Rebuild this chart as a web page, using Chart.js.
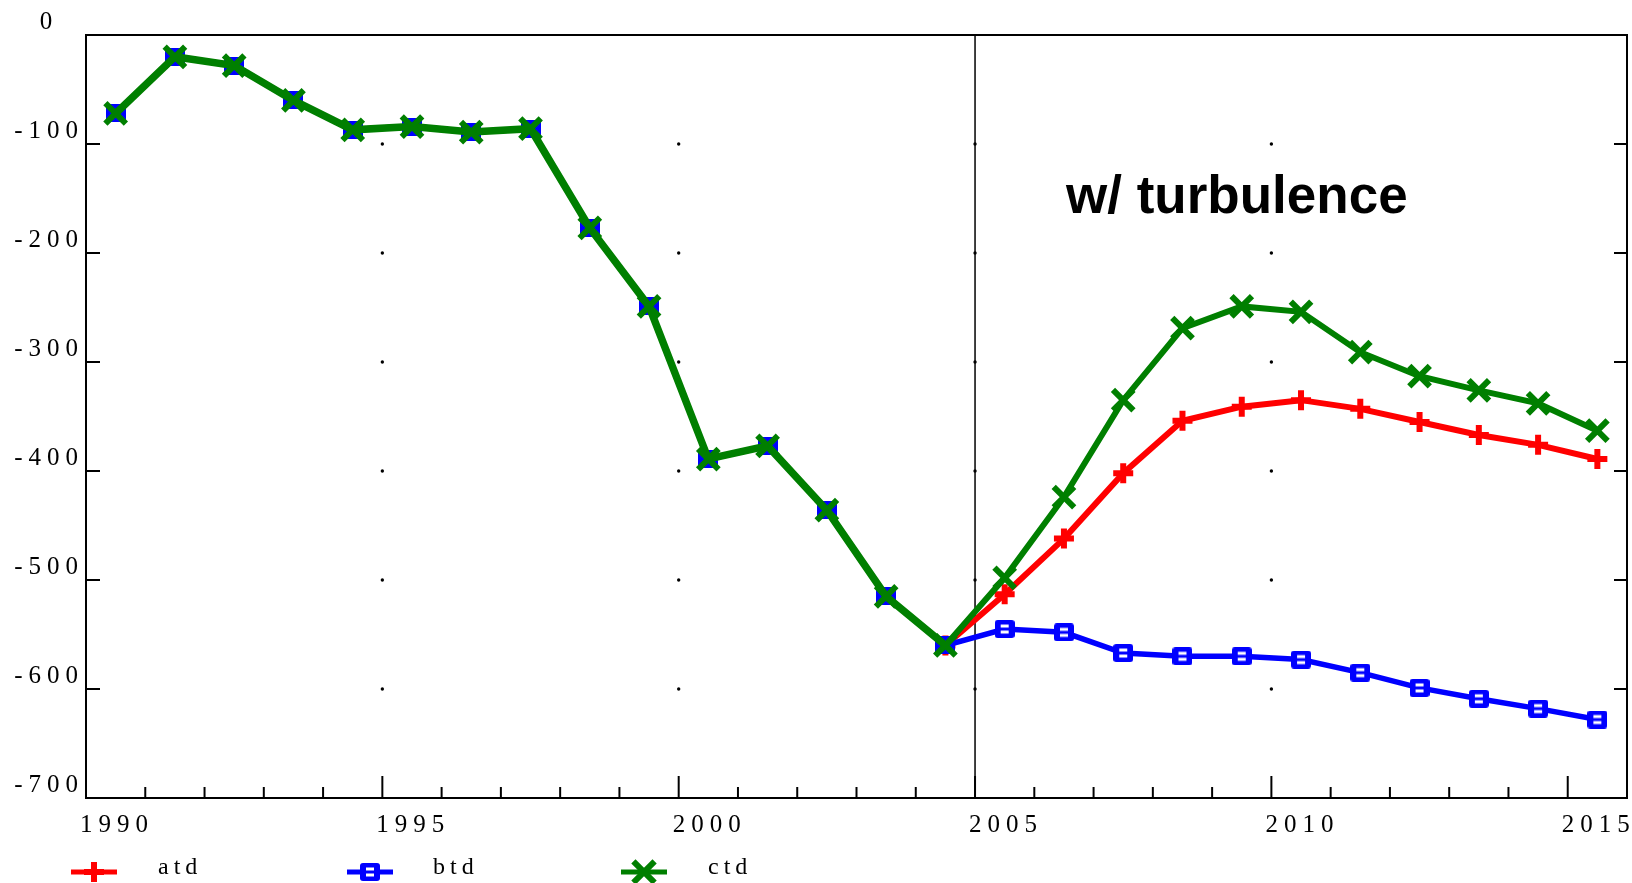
<!DOCTYPE html>
<html>
<head>
<meta charset="utf-8">
<title>atd / btd / ctd</title>
<script src="https://cdn.jsdelivr.net/npm/chart.js@4.4.1/dist/chart.umd.min.js"></script>
<style>
  html, body { margin: 0; padding: 0; background: #fff; }
  canvas { display: block; }
</style>
</head>
<body>
<canvas id="chart" width="1632" height="883"></canvas>
<script>
// yearly values, plotted at mid-year
const years = [1990, 1991, 1992, 1993, 1994, 1995, 1996, 1997, 1998, 1999, 2000, 2001, 2002,
               2003, 2004, 2005, 2006, 2007, 2008, 2009, 2010, 2011, 2012, 2013, 2014, 2015];

// common history 1990-2004
const history = [-72, -20, -28, -60, -87, -84, -89, -86, -177, -249, -389, -377, -436, -515, -560];

// 2005-2015 per case
const atdProj = [-513, -462, -402, -354, -341, -335, -343, -355, -367, -376, -389];
const btdProj = [-545, -548, -567, -570, -570, -573, -585, -599, -609, -618, -628];
const ctdProj = [-498, -424, -335, -269, -249, -254, -291, -313, -326, -338, -363];

const xLabelYears = [1990, 1995, 2000, 2005, 2010, 2015];
const dotYears = [1995, 2000, 2005, 2010];
const splitYear = 2005;
const note = "w/ turbulence";

const atd = history.concat(atdProj);
const btd = history.concat(btdProj);
const ctd = history.concat(ctdProj);

const RED = "#ff0000";
const BLUE = "#0000ff";
const GREEN = "#007f00";
const SERIF = "'Liberation Serif', 'Times New Roman', serif";

const pts = vals => vals.map((v, i) => ({ x: years[i] + 0.5, y: v }));
const inHistory = i => i < history.length - 1;

// square marker with a bar across the middle
function squareMark(solid) {
    const c = document.createElement("canvas");
    c.width = 20;
    c.height = 18;
    const g = c.getContext("2d");
    g.fillStyle = BLUE;
    g.beginPath();
    g.roundRect(0, 0, 20, 18, 3);
    g.fill();
    if (!solid) {
        g.fillStyle = "#fff";
        g.fillRect(6, 4.5, 8, 3);
        g.fillRect(6, 10.5, 8, 3);
    }
    return c;
}
const solidSq = squareMark(true);
const slotSq = squareMark(false);

const line = (ctx, x1, y1, x2, y2) => {
    ctx.beginPath();
    ctx.moveTo(x1, y1);
    ctx.lineTo(x2, y2);
    ctx.stroke();
};

const decor = {
    id: "decor",
    beforeDraw(chart) {
        chart.ctx.letterSpacing = "6px";
    },
    beforeDatasetsDraw(chart) {
        const { ctx, chartArea: a, scales: { x, y } } = chart;
        ctx.save();
        // dot grid
        ctx.fillStyle = "#000";
        dotYears.forEach(yr => {
            const px = x.getPixelForValue(yr);
            y.ticks.forEach(t => {
                if (t.value <= y.min || t.value >= y.max) return;
                ctx.beginPath();
                ctx.arc(px, y.getPixelForValue(t.value), 1.7, 0, Math.PI * 2);
                ctx.fill();
            });
        });
        // split line
        ctx.strokeStyle = "#000";
        ctx.lineWidth = 1.5;
        const sx = x.getPixelForValue(splitYear);
        line(ctx, sx, a.top, sx, a.bottom);
        ctx.restore();
    },
    afterDraw(chart) {
        const { ctx, chartArea: a, scales: { x, y } } = chart;
        ctx.save();
        ctx.strokeStyle = "#000";
        ctx.lineWidth = 2;
        ctx.strokeRect(a.left, a.top, a.right - a.left, a.bottom - a.top);

        // inward ticks
        y.ticks.forEach(t => {
            const py = y.getPixelForValue(t.value);
            line(ctx, a.left, py, a.left + 14, py);
            line(ctx, a.right, py, a.right - 13, py);
        });
        x.ticks.forEach(t => {
            if (t.value <= x.min || t.value >= x.max) return;
            const px = x.getPixelForValue(t.value);
            line(ctx, px, a.bottom, px, a.bottom - (t.value % 5 === 0 ? 22 : 11));
        });

        // annotation
        ctx.letterSpacing = "0px";
        ctx.fillStyle = "#000";
        ctx.font = "bold 53px 'Liberation Sans', Arial, sans-serif";
        ctx.textAlign = "left";
        ctx.textBaseline = "alphabetic";
        ctx.fillText(note, 1066, 213);

        // legend
        const items = [
            { label: "atd", color: RED, x: 71, tx: 158, style: "cross", r: 10, bw: 6 },
            { label: "btd", color: BLUE, x: 347, tx: 433, img: slotSq },
            { label: "ctd", color: GREEN, x: 621, tx: 708, style: "crossRot", r: 15, bw: 6 }
        ];
        const ly = 872;
        items.forEach(it => {
            ctx.strokeStyle = it.color;
            ctx.fillStyle = it.color;
            ctx.lineWidth = 5;
            line(ctx, it.x, ly, it.x + 46, ly);
            const mx = it.x + 23;
            if (it.img) {
                ctx.drawImage(it.img, mx - it.img.width / 2, ly - it.img.height / 2);
            } else {
                ctx.lineWidth = it.bw;
                Chart.helpers.drawPoint(ctx, { pointStyle: it.style, radius: it.r, borderWidth: it.bw, rotation: 0 }, mx, ly);
            }
            ctx.fillStyle = "#000";
            ctx.font = "24px " + SERIF;
            ctx.letterSpacing = "5px";
            ctx.fillText(it.label, it.tx, 874);
            ctx.letterSpacing = "0px";
        });
        ctx.restore();
        ctx.letterSpacing = "0px";
    }
};

const tickFont = { family: SERIF, size: 25 };

new Chart(document.getElementById("chart"), {
    type: "line",
    data: {
        datasets: [
            {
                label: "atd",
                data: pts(atd),
                borderColor: RED,
                borderWidth: 6,
                pointStyle: "cross",
                // shared history is covered by ctd, so no markers there
                pointRadius: ctx => inHistory(ctx.dataIndex) ? 0 : 10,
                pointBorderWidth: 6,
                pointBorderColor: RED,
                pointBackgroundColor: RED,
                fill: false,
                order: 3
            },
            {
                label: "btd",
                data: pts(btd),
                borderColor: BLUE,
                borderWidth: 5.5,
                pointStyle: ctx => ctx.dataIndex < history.length ? solidSq : slotSq,
                pointRadius: 10,
                fill: false,
                order: 2
            },
            {
                label: "ctd",
                data: pts(ctd),
                borderColor: GREEN,
                borderWidth: 6,
                segment: {
                    borderWidth: ctx => ctx.p1DataIndex < history.length ? 7.5 : 6
                },
                pointStyle: "crossRot",
                pointRadius: 14.5,
                pointBorderWidth: 6,
                pointBorderColor: GREEN,
                pointBackgroundColor: GREEN,
                fill: false,
                order: 1
            }
        ]
    },
    options: {
        responsive: false,
        animation: false,
        devicePixelRatio: 1,
        layout: {
            autoPadding: false,
            padding: { left: 0, right: 5, top: 35, bottom: 0 }
        },
        plugins: {
            legend: { display: false },
            tooltip: { enabled: false }
        },
        scales: {
            x: {
                type: "linear",
                min: 1990,
                max: 2016,
                grid: { display: false, drawTicks: false },
                border: { display: false },
                ticks: {
                    stepSize: 1,
                    includeBounds: false,
                    autoSkip: false,
                    maxRotation: 0,
                    align: "start",
                    labelOffset: -6,
                    padding: 12,
                    font: tickFont,
                    color: "#000",
                    callback: v => xLabelYears.includes(v) ? String(v) : ""
                },
                afterFit: s => {
                    s.height = 85;
                    s.paddingLeft = 0;
                    s.paddingRight = 0;
                }
            },
            y: {
                min: -700,
                max: 0,
                grid: { display: false, drawTicks: false },
                border: { display: false },
                ticks: {
                    stepSize: 100,
                    crossAlign: "center",
                    padding: 14,
                    labelOffset: -13,
                    font: tickFont,
                    color: "#000",
                    callback: v => String(v)
                },
                afterFit: s => {
                    s.width = 86;
                    s.paddingTop = 0;
                    s.paddingBottom = 0;
                }
            }
        }
    },
    plugins: [decor]
});
</script>
</body>
</html>
